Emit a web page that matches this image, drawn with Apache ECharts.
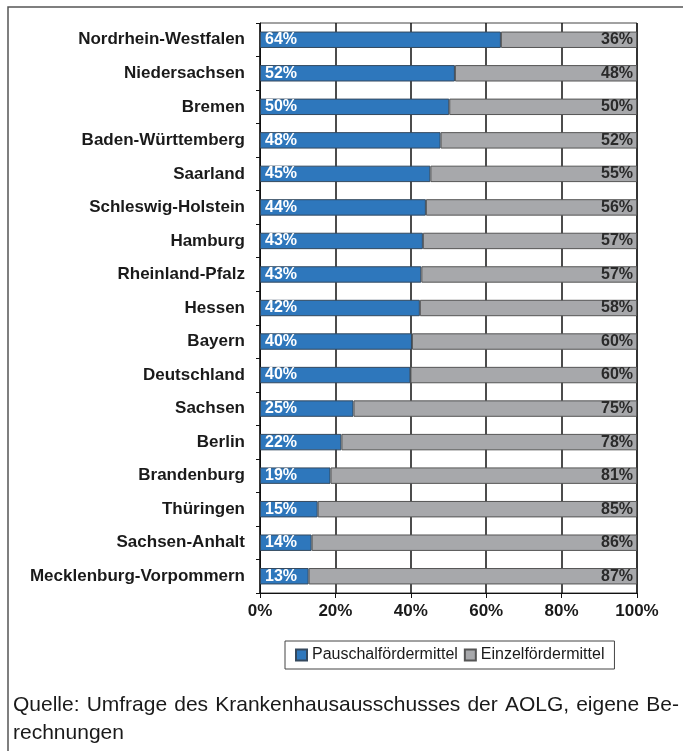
<!DOCTYPE html>
<html>
<head>
<meta charset="utf-8">
<script src="https://cdn.jsdelivr.net/npm/echarts@6/dist/echarts.min.js"></script>
<style>
html,body{margin:0;padding:0;background:#fff;}
#chart{width:683px;height:751px;}
</style>
</head>
<body>
<div id="chart"></div>
<script>
const categories = ["Nordrhein-Westfalen","Niedersachsen","Bremen","Baden-Württemberg","Saarland","Schleswig-Holstein","Hamburg","Rheinland-Pfalz","Hessen","Bayern","Deutschland","Sachsen","Berlin","Brandenburg","Thüringen","Sachsen-Anhalt","Mecklenburg-Vorpommern"];
const pauschal = [63.9,51.7,50.2,47.9,45.2,44.0,43.2,42.8,42.4,40.3,39.9,24.8,21.6,18.7,15.3,13.7,12.9];
const einzel   = [36.1,48.3,49.8,52.1,54.8,56.0,56.8,57.2,57.6,59.7,60.1,75.2,78.4,81.3,84.7,86.3,87.1];
const seriesNames = ["Pauschalfördermittel","Einzelfördermittel"];
const xTicks = [0,20,40,60,80,100];
const sourceLine1 = "Quelle: Umfrage des Krankenhausausschusses der AOLG, eigene Be-";
const sourceLine2 = "rechnungen";

const FONT = '"Liberation Sans", Arial, Helvetica, sans-serif';
const chart = echarts.init(document.getElementById('chart'), null, {renderer:'canvas'});

// justified first source line
const srcFontSize = 21;
const ctx = document.createElement('canvas').getContext('2d');
ctx.font = srcFontSize + 'px "Liberation Sans"';
const words = sourceLine1.split(' ');
const xStart = 13, xEnd = 679;
const widths = words.map(w => ctx.measureText(w).width);
const sumW = widths.reduce((a,b)=>a+b,0);
const gap = (xEnd - xStart - sumW) / (words.length - 1);
const graphics = [];
let cx = xStart;
words.forEach((w,i) => {
  graphics.push({type:'text', left:cx, top:695, style:{text:w, font: srcFontSize+'px '+FONT, fill:'#1a1a1a'}});
  cx += widths[i] + gap;
});
graphics.push({type:'text', left:xStart, top:723, style:{text:sourceLine2, font: srcFontSize+'px '+FONT, fill:'#1a1a1a'}});
// outer frame (only top and left visible)
graphics.push({type:'rect', shape:{x:8, y:7, width:720, height:800}, style:{fill:'none', stroke:'#555', lineWidth:1.5}, silent:true, z:-1});

const option = {
  animation:false,
  backgroundColor:'#fff',
  textStyle:{fontFamily:FONT},
  grid:{left:260, right:46, top:23, height:570, show:true, borderColor:'#444', borderWidth:1},
  legend:{
    data:seriesNames,
    left:285, top:641,
    padding:[6,10],
    borderColor:'#444', borderWidth:1,
    itemWidth:11, itemHeight:11, itemGap:6,
    icon:'rect',
    textStyle:{fontSize:16, color:'#1a1a1a', fontFamily:FONT}
  },
  xAxis:{
    type:'value', min:xTicks[0], max:xTicks[xTicks.length-1], interval:20,
    axisLine:{show:true, lineStyle:{color:'#111', width:1}},
    axisTick:{show:true, length:5, lineStyle:{color:'#111'}},
    splitLine:{show:true, lineStyle:{color:'#111', width:1.5}},
    axisLabel:{formatter:'{value}%', fontSize:17, fontWeight:'bold', color:'#1a1a1a', margin:10, fontFamily:FONT}
  },
  yAxis:{
    type:'category', data:categories, inverse:true,
    axisLine:{show:true, lineStyle:{color:'#111', width:1}},
    axisTick:{show:true, length:4, lineStyle:{color:'#111'}},
    axisLabel:{fontSize:17, fontWeight:'bold', color:'#1a1a1a', margin:15, fontFamily:FONT}
  },
  series:[
    {
      name:seriesNames[0], type:'bar', stack:'s', data:pauschal, barWidth:'49%',
      itemStyle:{color:'#2e77bc', borderColor:'#34495e', borderWidth:1},
      label:{show:true, position:'insideLeft', distance:5, color:'#fff', fontSize:16, fontWeight:'bold', fontFamily:FONT,
        formatter:p => Math.round(p.value) + '%'}
    },
    {
      name:seriesNames[1], type:'bar', stack:'s', data:einzel, barWidth:'49%',
      itemStyle:{color:'#a7a8ab', borderColor:'#555', borderWidth:1},
      label:{show:true, position:'insideRight', distance:4, color:'#2a2a2a', fontSize:16, fontWeight:'bold', fontFamily:FONT,
        formatter:p => Math.round(p.value) + '%'}
    }
  ],
  graphic:graphics
};
chart.setOption(option);
</script>
</body>
</html>
